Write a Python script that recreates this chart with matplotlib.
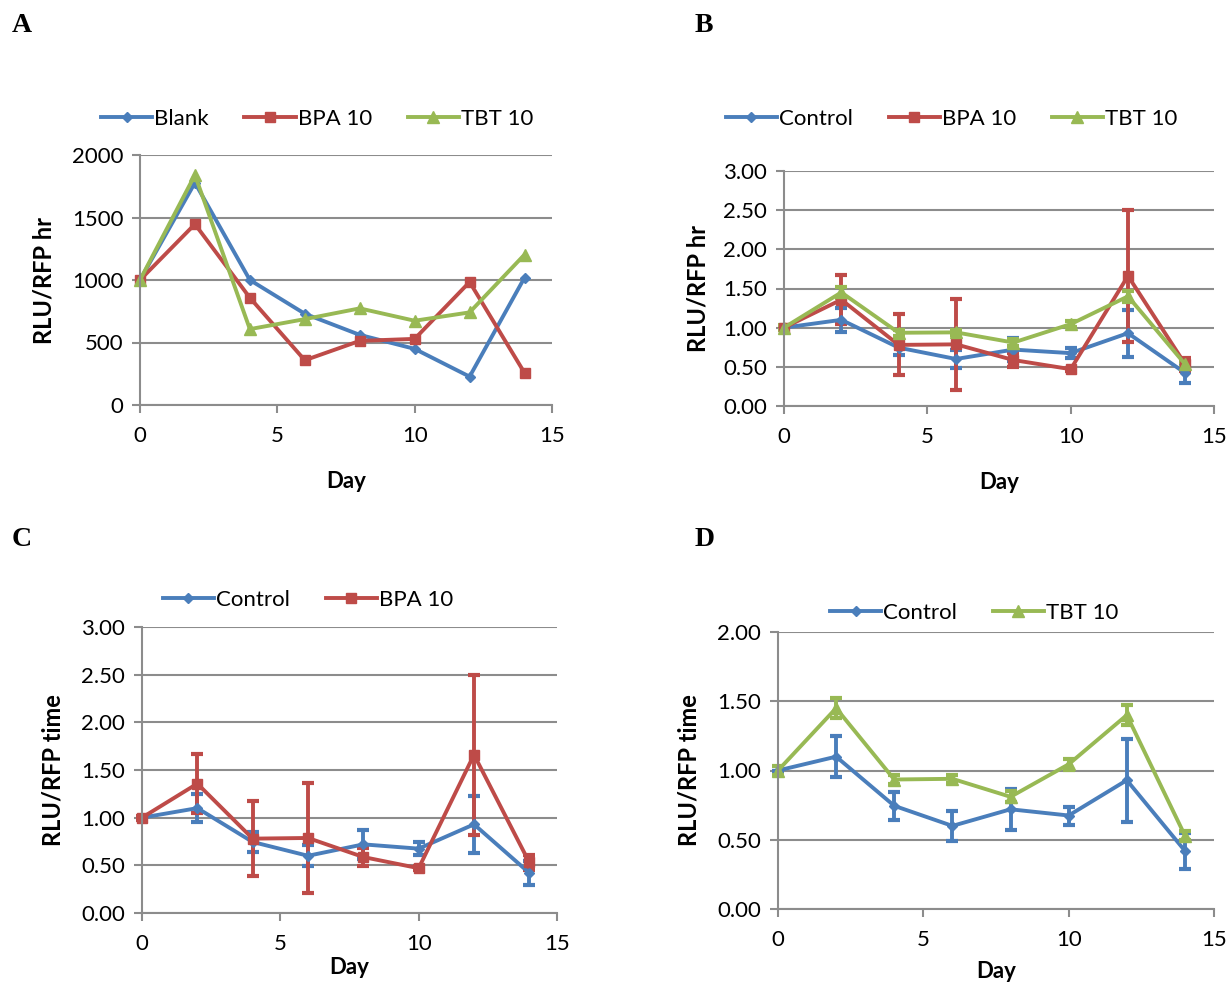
import numpy as np
import matplotlib
matplotlib.use("Agg")
import matplotlib.pyplot as plt
from matplotlib.lines import Line2D
from matplotlib.ticker import FormatStrFormatter

plt.rcParams['font.family'] = ['Lato', 'DejaVu Sans']

# data
days = [0, 2, 4, 6, 8, 10, 12, 14]

# panel A (raw values)
blank_a = [1000, 1778, 1000, 730, 561, 449, 227, 1019]
bpa_a = [1000, 1447, 858, 358, 513, 529, 984, 257]
tbt_a = [1000, 1840, 607, 687, 773, 674, 741, 1203]

# panels B-D (normalised, mean and error)
control_mean = [1.00, 1.10, 0.745, 0.60, 0.72, 0.675, 0.93, 0.42]
control_err = [0.0, 0.15, 0.10, 0.11, 0.15, 0.065, 0.30, 0.13]
bpa_mean = [1.00, 1.357, 0.78, 0.787, 0.587, 0.47, 1.66, 0.53]
bpa_err = [0.02, 0.31, 0.39, 0.58, 0.09, 0.02, 0.84, 0.08]
tbt_mean = [1.00, 1.45, 0.935, 0.94, 0.81, 1.045, 1.40, 0.53]
tbt_err = [0.03, 0.07, 0.035, 0.03, 0.04, 0.04, 0.07, 0.03]

BLUE = '#4A7EBB'
RED = '#BE4B48'
GREEN = '#98B954'
GRID = '#8C8C8C'

W, H = 1229, 984
fig = plt.figure(figsize=(W / 100, H / 100), dpi=100)

styles = {
    'blue': dict(color=BLUE, marker='D', markersize=5),
    'red': dict(color=RED, marker='s', markersize=7),
    'green': dict(color=GREEN, marker='^', markersize=8),
}


def make_axes(left, right, top, bottom):
    return fig.add_axes([left / W, 1 - bottom / H, (right - left) / W, (bottom - top) / H])


def style_axes(ax, ymax, ystep, fmt, ylabel, xlabel_pad, ylabel_pad):
    ax.set_xlim(0, 15)
    ax.set_ylim(0, ymax)
    ax.set_xticks([0, 5, 10, 15])
    ax.set_yticks(np.arange(0, ymax + ystep / 2, ystep))
    ax.yaxis.set_major_formatter(FormatStrFormatter(fmt))
    for s in ['top', 'right']:
        ax.spines[s].set_visible(False)
    for s in ['left', 'bottom']:
        ax.spines[s].set_color(GRID)
        ax.spines[s].set_linewidth(1.5)
    ax.grid(axis='y', color=GRID, linewidth=1.5)
    ax.set_axisbelow(True)
    ax.tick_params(axis='both', colors=GRID, labelcolor='black', labelsize=16,
                   width=1.5, length=6)
    ax.tick_params(axis='y', pad=6)
    ax.tick_params(axis='x', pad=9)
    ax.set_ylabel(ylabel, fontsize=17, fontweight='bold', labelpad=ylabel_pad)
    ax.set_xlabel('Day', fontsize=16, fontweight='bold', labelpad=xlabel_pad)
    for sp in ax.spines.values():
        sp.set_clip_on(False)


def add_legend(ax, x, y, keys, labels):
    handles = [Line2D([], [], linewidth=2.8, **styles[k]) for k in keys]
    ax.legend(handles, labels, loc='lower center', bbox_to_anchor=(x, y), ncol=3,
              frameon=False, fontsize=16, handlelength=2.3, handletextpad=0.1,
              columnspacing=1.6, borderaxespad=0)


line_kw = dict(linewidth=2.8, clip_on=False)
err_kw = dict(elinewidth=2.8, capsize=4.5, capthick=3.0)

# --- A ---
ax = make_axes(140, 552, 155, 405)
ax.plot(days, blank_a, **styles['blue'], **line_kw)
ax.plot(days, bpa_a, **styles['red'], **line_kw)
ax.plot(days, tbt_a, **styles['green'], **line_kw)
style_axes(ax, 2000, 500, '%d', 'RLU/RFP hr', 18, 12)
add_legend(ax, 0.43, 1.07, ['blue', 'red', 'green'], ['Blank', 'BPA 10', 'TBT 10'])

# --- B ---
ax = make_axes(784, 1214, 171, 406)
ax.errorbar(days, control_mean, yerr=control_err, **styles['blue'], **line_kw, **err_kw)
ax.errorbar(days, bpa_mean, yerr=bpa_err, **styles['red'], **line_kw, **err_kw)
ax.errorbar(days, tbt_mean, yerr=tbt_err, **styles['green'], **line_kw, **err_kw)
style_axes(ax, 3.0, 0.5, '%.2f', 'RLU/RFP hr', 18, 10)
add_legend(ax, 0.39, 1.14, ['blue', 'red', 'green'], ['Control', 'BPA 10', 'TBT 10'])

# --- C ---
ax = make_axes(142, 557, 627, 913)
ax.errorbar(days, control_mean, yerr=control_err, **styles['blue'], **line_kw, **err_kw)
ax.errorbar(days, bpa_mean, yerr=bpa_err, **styles['red'], **line_kw, **err_kw)
style_axes(ax, 3.0, 0.5, '%.2f', 'RLU/RFP time', 2, 12)
add_legend(ax, 0.40, 1.03, ['blue', 'red'], ['Control', 'BPA 10'])

# --- D ---
ax = make_axes(778, 1214, 632, 909)
ax.errorbar(days, control_mean, yerr=control_err, **styles['blue'], **line_kw, **err_kw)
ax.errorbar(days, tbt_mean, yerr=tbt_err, **styles['green'], **line_kw, **err_kw)
style_axes(ax, 2.0, 0.5, '%.2f', 'RLU/RFP time', 8, 12)
add_legend(ax, 0.45, 1.0, ['blue', 'green'], ['Control', 'TBT 10'])

# panel letters
for letter, (px, py) in zip('ABCD', [(12, 25), (695, 25), (12, 540), (695, 540)]):
    fig.text(px / W, 1 - py / H, letter, fontsize=20, fontweight='bold',
             family=['Liberation Serif', 'DejaVu Serif'], va='center', ha='left')

fig.savefig('out.png', dpi=100)
